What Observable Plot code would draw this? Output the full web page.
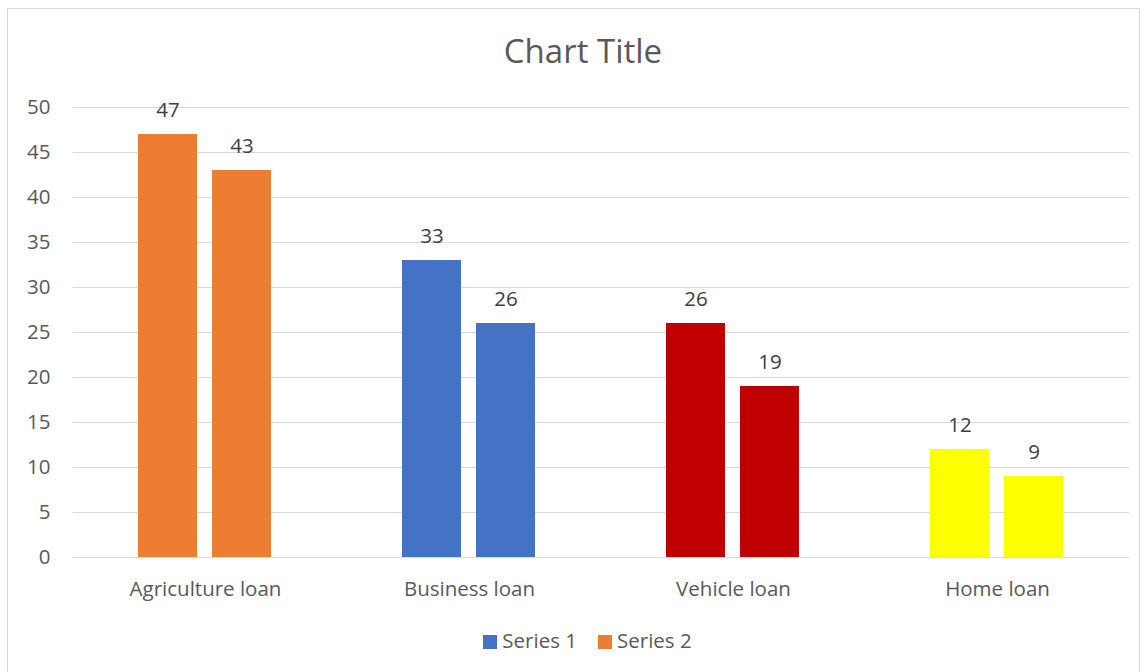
<!DOCTYPE html>
<html>
<head>
<meta charset="utf-8">
<script src="https://cdn.jsdelivr.net/npm/d3@7"></script>
<script src="https://cdn.jsdelivr.net/npm/@observablehq/plot@0.6"></script>
<style>
  body { margin: 0; background: #fff; font-family: "Open Sans", Lato, sans-serif; color: #595959; }
  #frame { position: absolute; left: 7px; top: 8px; width: 1133px; height: 680px; border: 1px solid #d9d9d9; box-sizing: border-box; }
  #title { position: absolute; left: 0; width: 1166px; top: 28px; text-align: center; font-size: 33px; color: #595959; }
  #chart { position: absolute; left: 0; top: 0; }
  #legend { position: absolute; left: 0; width: 1175px; top: 626px; display: flex; justify-content: center; gap: 21px; font-size: 20.5px; color: #595959; }
  #legend span.sw { display: inline-block; width: 14px; height: 14px; margin-right: 5px; vertical-align: -1px; }
</style>
</head>
<body>
<div id="frame"></div>
<div id="title">Chart Title</div>
<div id="chart"></div>
<div id="legend"></div>
<script>
const categories = ["Agriculture loan", "Business loan", "Vehicle loan", "Home loan"];
const seriesNames = ["Series 1", "Series 2"];
const series1 = [47, 33, 26, 12];
const series2 = [43, 26, 19, 9];
const yTicks = [0, 5, 10, 15, 20, 25, 30, 35, 40, 45, 50];

const categoryColors = ["#ED7D31", "#4472C4", "#C00000", "#FFFF00"];
const legendColors = ["#4472C4", "#ED7D31"];

const data = [];
categories.forEach((c, i) => {
  data.push({category: c, series: seriesNames[0], value: series1[i]});
  data.push({category: c, series: seriesNames[1], value: series2[i]});
});

const font = "'Open Sans', Lato, sans-serif";

const plot = Plot.plot({
  width: 1148,
  height: 620,
  marginTop: 107,
  marginBottom: 63,
  marginLeft: 71,
  marginRight: 18,
  style: {fontFamily: font, color: "#595959", background: "transparent"},
  fx: {domain: categories, paddingInner: 0, paddingOuter: 0, label: null, axis: null},
  x: {domain: seriesNames, paddingInner: 0.2, paddingOuter: 0.865, axis: null},
  y: {domain: [0, 50], axis: null},
  color: {domain: categories, range: categoryColors},
  marks: [
    Plot.ruleY(yTicks, {stroke: "#d9d9d9", strokeWidth: 1}),
    Plot.barY(data, {fx: "category", x: "series", y: "value", fill: "category"}),
    Plot.text(data, {fx: "category", x: "series", y: "value", text: d => String(d.value), dy: -24, fontSize: 20.5, fill: "#404040", lineAnchor: "middle"}),
    Plot.axisY({ticks: yTicks, tickSize: 0, tickPadding: 23, fontSize: 20.5, color: "#595959", label: null}),
    Plot.axisFx({anchor: "bottom", tickSize: 0, tickPadding: 24, fontSize: 20.5, color: "#595959", label: null})
  ]
});
document.getElementById("chart").appendChild(plot);

const legend = document.getElementById("legend");
seriesNames.forEach((s, i) => {
  const item = document.createElement("div");
  const sw = document.createElement("span");
  sw.className = "sw";
  sw.style.background = legendColors[i];
  item.appendChild(sw);
  item.appendChild(document.createTextNode(s));
  legend.appendChild(item);
});
</script>
</body>
</html>
